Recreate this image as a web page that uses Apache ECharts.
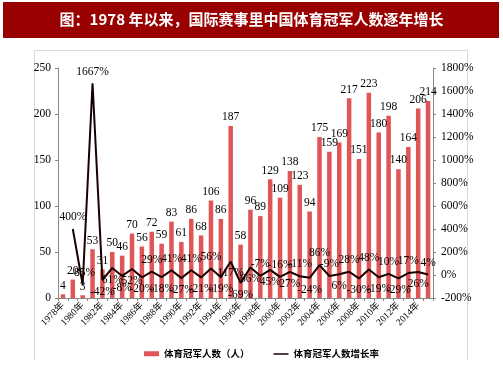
<!DOCTYPE html>
<html><head><meta charset="utf-8">
<script src="https://cdn.jsdelivr.net/npm/echarts@6/dist/echarts.min.js"></script>
<style>html,body{margin:0;padding:0;background:#fff}#c{width:503px;height:378px}</style>
</head><body><div id="c"></div>
<script>
var years = ['1978年','1979年','1980年','1981年','1982年','1983年','1984年','1985年','1986年','1987年','1988年','1989年','1990年','1991年','1992年','1993年','1994年','1995年','1996年','1997年','1998年','1999年','2000年','2001年','2002年','2003年','2004年','2005年','2006年','2007年','2008年','2009年','2010年','2011年','2012年','2013年','2014年','2015年'];
var champions = [4,20,3,53,31,50,46,70,56,72,59,83,61,86,68,106,86,187,58,96,89,129,109,138,123,94,175,159,169,217,151,223,180,198,140,164,206,214];
var growth = [null,400,-85,1667,-42,61,-8,52,-20,29,-18,41,-27,41,-21,56,-19,117,-69,66,-7,45,-16,27,-11,-24,86,-9,6,28,-30,48,-19,10,-29,17,26,4];
var leftTicks = {min:0,max:250,interval:50};
var rightTicks = {min:-200,max:1800,interval:200};
var title = '图：1978 年以来，国际赛事里中国体育冠军人数逐年增长';

// label placement (style only)
var growthLabelPos = ['top','top','top','top','bottom','bottom','bottom','bottom','bottom','top','bottom','top','bottom','top','bottom','top','bottom','bottom','bottom','bottom','top','bottom','top','bottom','top','bottom','top','top','bottom','top','bottom','top','bottom','top','bottom','top','bottom','top'];

var serif = '"Liberation Serif","Noto Sans CJK SC",serif';
var chart = echarts.init(document.getElementById('c'), null, {renderer:'canvas'});
var lineData = growth.map(function(v,i){
  if (v === null) return null;
  return {value:v, label:{position:growthLabelPos[i]}};
});
chart.setOption({
  animation:false,
  graphic:[
    {type:'rect',shape:{x:3,y:2,width:496,height:36},style:{fill:'#990000'},z:0},
    {type:'text',left:'center',top:12,style:{text:title,fill:'#fff',font:'bold 15px "Noto Sans CJK SC"'},z:1},
    {type:'polyline',shape:{points:[[34.5,360],[34.5,50.5],[467.5,50.5],[467.5,360]]},style:{stroke:'#d9d9d9',lineWidth:1,fill:null},z:0}
  ],
  legend:{
    left:139, top:344, itemGap:24,
    textStyle:{fontSize:9.5,fontWeight:'bold',color:'#000',fontFamily:'"Noto Sans CJK SC"'},
    data:[{name:'体育冠军人数（人）',icon:'rect'},
          {name:'体育冠军人数增长率',icon:'path://M0,0h1v0.01h-1zM0,2h16v1.6h-16zM15,4.99h1v0.01h-1z'}],
    itemWidth:15,itemHeight:5
  },
  grid:{left:58,right:70,top:68,bottom:80,containLabel:false},
  xAxis:{
    type:'category',data:years,
    axisLine:{lineStyle:{color:'#888'}},
    axisTick:{show:true,interval:0,length:3,lineStyle:{color:'#888'}},
    axisLabel:{interval:1,rotate:45,fontSize:9.5,color:'#000',fontFamily:serif,margin:6}
  },
  yAxis:[
    {type:'value',min:leftTicks.min,max:leftTicks.max,interval:leftTicks.interval,
     splitLine:{show:false},axisLine:{show:true,lineStyle:{color:'#888'}},
     axisTick:{show:true,length:3,lineStyle:{color:'#888'}},
     axisLabel:{fontSize:11.5,color:'#000',fontFamily:serif,margin:7}},
    {type:'value',min:rightTicks.min,max:rightTicks.max,interval:rightTicks.interval,
     splitLine:{show:false},axisLine:{show:true,lineStyle:{color:'#888'}},
     axisTick:{show:true,length:3,lineStyle:{color:'#888'}},
     axisLabel:{formatter:function(v){return v+'%';},fontSize:11.5,color:'#000',fontFamily:serif,margin:8}}
  ],
  series:[
    {name:'体育冠军人数（人）',type:'bar',data:champions,barWidth:4.5,
     itemStyle:{color:'#E05555'},
     label:{show:true,position:'top',distance:3,fontSize:11.5,color:'#000',fontFamily:serif}},
    {name:'体育冠军人数增长率',type:'line',yAxisIndex:1,data:lineData,
     symbol:'circle',symbolSize:0.1,showSymbol:true,
     lineStyle:{color:'#1a0000',width:2},itemStyle:{color:'#1a0000'},
     labelLayout:{hideOverlap:false},
     label:{show:true,formatter:'{c}%',fontSize:11.5,color:'#000',fontFamily:serif,distance:6}}
  ]
});
</script></body></html>
